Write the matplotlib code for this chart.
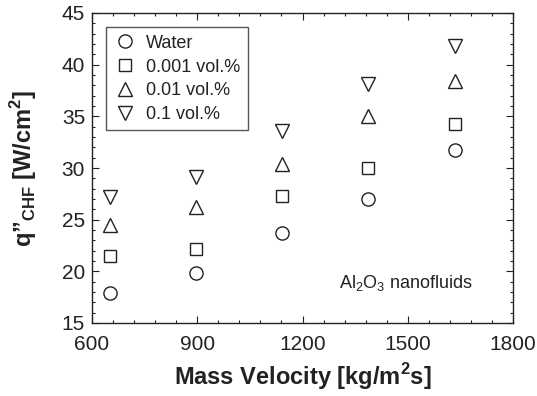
import matplotlib.pyplot as plt
from matplotlib.ticker import MultipleLocator

plt.rcParams['font.family'] = ['Liberation Sans', 'DejaVu Sans']
plt.rcParams['mathtext.fontset'] = 'custom'
plt.rcParams['mathtext.rm'] = 'Liberation Sans'
plt.rcParams['mathtext.bf'] = 'Liberation Sans:bold'

# data
mass_velocity = [651, 896, 1141, 1386, 1634]
water = [17.9, 19.8, 23.7, 27.0, 31.7]
vol_0001 = [21.5, 22.2, 27.3, 30.0, 34.3]
vol_001 = [24.5, 26.2, 30.4, 35.0, 38.4]
vol_01 = [27.2, 29.1, 33.6, 38.1, 41.8]

series = [
    (water, 'o', 'Water'),
    (vol_0001, 's', '0.001 vol.%'),
    (vol_001, '^', '0.01 vol.%'),
    (vol_01, 'v', '0.1 vol.%'),
]

ink = '#222222'

fig = plt.figure(figsize=(5.37, 3.96), dpi=100)
ax = fig.add_axes([92 / 537, 1 - 323 / 396, 421 / 537, 310 / 396])

for vals, m, lab in series:
    ms = 9.5 if m == 'o' else (8.5 if m == 's' else 10.5)
    ax.plot(mass_velocity, vals, linestyle='none', marker=m, markersize=ms,
            markerfacecolor='white', markeredgecolor=ink, markeredgewidth=1.0,
            label=lab)

ax.set_xlim(600, 1800)
ax.set_ylim(15, 45)
ax.xaxis.set_major_locator(MultipleLocator(300))
ax.xaxis.set_minor_locator(MultipleLocator(60))
ax.yaxis.set_major_locator(MultipleLocator(5))
ax.yaxis.set_minor_locator(MultipleLocator(1))
ax.tick_params(which='both', direction='in', top=True, right=True,
               colors=ink, labelsize=15, width=0.8)
ax.tick_params(which='major', length=5)
ax.tick_params(which='minor', length=2.5)
ax.tick_params(axis='x', pad=9)
ax.tick_params(axis='y', pad=5)
for s in ax.spines.values():
    s.set_color(ink)
    s.set_linewidth(1.0)

ax.set_xlabel(r'Mass Velocity [kg/m$^\mathbf{2}$s]', fontsize=17,
              fontweight='bold', color=ink, labelpad=5)
ax.set_ylabel('q\u201d' + r'$_\mathbf{CHF}$ [W/cm$^\mathbf{2}$]', fontsize=17,
              fontweight='bold', color=ink, labelpad=16)

ax.text(0.905, 0.13, r'Al$_2$O$_3$ nanofluids', transform=ax.transAxes,
        ha='right', va='center', fontsize=13, color=ink)

leg = ax.legend(loc='upper left', fontsize=13, frameon=True, fancybox=False,
                edgecolor='#555555', framealpha=1, handletextpad=0.6,
                borderpad=0.4, labelspacing=0.38, handlelength=1.2,
                borderaxespad=0.8)
leg.get_frame().set_linewidth(1.0)
for t in leg.get_texts():
    t.set_color(ink)

fig.savefig('out.png', dpi=100)
